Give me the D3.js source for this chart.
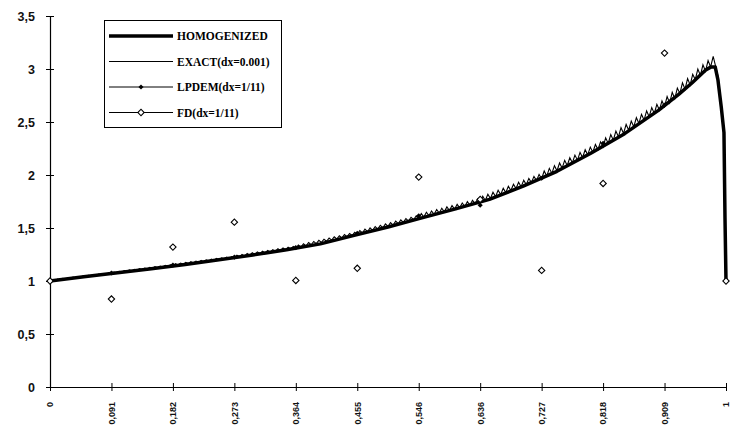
<!DOCTYPE html>
<html>
<head>
<meta charset="utf-8">
<script src="https://cdn.jsdelivr.net/npm/d3@7"></script>
<style>
  body { margin: 0; background: #fff; }
  #chart { width: 730px; height: 427px; }
</style>
</head>
<body>
<div id="chart"></div>
<script>
// tick labels
const X_TICKS = [0, 1/11, 2/11, 3/11, 4/11, 5/11, 6/11, 7/11, 8/11, 9/11, 10/11, 1];
const X_TICK_LABELS = ["0", "0,091", "0,182", "0,273", "0,364", "0,455", "0,546", "0,636", "0,727", "0,818", "0,909", "1"];
const Y_TICKS = [0, 0.5, 1, 1.5, 2, 2.5, 3, 3.5];
const Y_TICK_LABELS = ["0", "0,5", "1", "1,5", "2", "2,5", "3", "3,5"];

const SERIES_NAMES = ["HOMOGENIZED", "EXACT(dx=0.001)", "LPDEM(dx=1/11)", "FD(dx=1/11)"];

// homogenized solution
const HOMO_X = [0, 0.05, 0.1, 0.15, 0.2, 0.25, 0.3, 0.35, 0.4, 0.45, 0.5, 0.55, 0.6, 0.65, 0.7, 0.75, 0.8, 0.85, 0.9, 0.93, 0.95, 0.97, 0.978, 0.984, 0.988, 0.993, 0.997, 0.9985, 1];
const HOMO_Y = [1.00, 1.04, 1.077, 1.115, 1.155, 1.20, 1.245, 1.295, 1.35, 1.43, 1.51, 1.595, 1.68, 1.77, 1.895, 2.035, 2.205, 2.39, 2.61, 2.76, 2.87, 2.99, 3.02, 3.02, 2.90, 2.64, 2.40, 1.6, 1.0];

// exact solution, one value every 1/264 (valleys and spikes)
const EXACT_STEP = 1 / 264;
const EXACT_Y = [
  1.000,1.013,1.006,1.019,1.012,1.025,1.017,1.030,1.023,1.036,1.029,1.042,1.035,1.048,1.041,1.054,1.046,1.059,1.052,1.065,1.058,1.071,1.064,1.077,
  1.070,1.085,1.076,1.091,1.082,1.097,1.089,1.104,1.095,1.110,1.101,1.116,1.107,1.122,1.113,1.128,1.120,1.135,1.126,1.141,1.132,1.147,1.138,1.153,
  1.145,1.163,1.151,1.169,1.157,1.175,1.164,1.182,1.170,1.188,1.176,1.194,1.182,1.200,1.188,1.206,1.195,1.213,1.201,1.219,1.207,1.225,1.213,1.231,
  1.220,1.244,1.228,1.251,1.235,1.259,1.243,1.266,1.250,1.274,1.258,1.281,1.265,1.289,1.273,1.296,1.280,1.304,1.288,1.311,1.295,1.319,1.303,1.326,
  1.310,1.340,1.321,1.351,1.332,1.362,1.342,1.373,1.353,1.384,1.364,1.394,1.375,1.405,1.386,1.416,1.396,1.427,1.407,1.438,1.418,1.448,1.429,1.459,
  1.440,1.476,1.453,1.489,1.465,1.501,1.478,1.514,1.490,1.526,1.503,1.539,1.515,1.551,1.528,1.564,1.540,1.576,1.553,1.589,1.565,1.601,1.578,1.614,
  1.590,1.636,1.603,1.649,1.615,1.661,1.628,1.674,1.640,1.686,1.653,1.699,1.665,1.711,1.678,1.724,1.690,1.736,1.703,1.749,1.715,1.761,1.728,1.774,
  1.740,1.799,1.759,1.818,1.778,1.837,1.796,1.856,1.815,1.875,1.834,1.893,1.853,1.912,1.872,1.931,1.890,1.950,1.909,1.968,1.928,1.987,1.947,2.006,
  1.965,2.038,1.990,2.063,2.015,2.088,2.040,2.113,2.065,2.138,2.090,2.163,2.115,2.188,2.140,2.213,2.165,2.238,2.190,2.263,2.215,2.288,2.240,2.313,
  2.265,2.351,2.297,2.382,2.328,2.414,2.360,2.446,2.392,2.477,2.423,2.509,2.455,2.541,2.486,2.572,2.518,2.604,2.550,2.636,2.581,2.667,2.613,2.699,
  2.645,2.740,2.680,2.780,2.720,2.820,2.770,2.870,2.810,2.910,2.850,2.950,2.900,3.000,2.940,3.040,2.980,3.080,3.020,3.120,3.020,2.920,2.680,2.450,
  1.000
];

// discrete solutions at x = k/11
const LPDEM_Y = [1.00, 1.075, 1.15, 1.225, 1.315, 1.45, 1.615, 1.715, 1.97, 2.30, 2.66, 1.00];
const FD_Y = [1.00, 0.83, 1.32, 1.555, 1.005, 1.12, 1.98, 1.77, 1.10, 1.92, 3.15, 1.00];

var width = 730, height = 427;
var margin = {top: 16, right: 4, bottom: 40, left: 50};

var svg = d3.select("#chart")
    .append("svg")
    .attr("width", width)
    .attr("height", height);

var x = d3.scaleLinear().domain([0, 1]).range([margin.left, width - margin.right]);
var y = d3.scaleLinear().domain([0, 3.5]).range([height - margin.bottom, margin.top]);

// axes with ticks crossing the line
var yAxis = svg.append("g")
    .attr("transform", "translate(" + x(0) + ",0)")
    .call(d3.axisLeft(y).tickValues(Y_TICKS).tickFormat((d, i) => Y_TICK_LABELS[i]).tickSizeOuter(0));
yAxis.select(".domain").attr("stroke", "#000").attr("stroke-width", 1.2);
yAxis.selectAll(".tick line").attr("x1", 4).attr("x2", -4).attr("stroke", "#000");
yAxis.selectAll(".tick text")
    .attr("x", -15)
    .style("font-family", "Liberation Sans, Arial, sans-serif")
    .style("font-size", "12.5px")
    .style("font-weight", "bold")
    .attr("fill", "#111");

var xAxis = svg.append("g")
    .attr("transform", "translate(0," + y(0) + ")")
    .call(d3.axisBottom(x).tickValues(X_TICKS).tickFormat((d, i) => X_TICK_LABELS[i]).tickSizeOuter(0));
xAxis.select(".domain").attr("stroke", "#000").attr("stroke-width", 1.2);
xAxis.selectAll(".tick line").attr("y1", -4).attr("y2", 4).attr("stroke", "#000");
xAxis.selectAll(".tick text")
    .attr("transform", "rotate(-90)")
    .attr("x", -15)
    .attr("y", 0)
    .attr("dy", "0.32em")
    .attr("text-anchor", "end")
    .style("font-family", "Liberation Sans, Arial, sans-serif")
    .style("font-size", "9px")
    .style("font-weight", "bold")
    .attr("fill", "#111");

// lines
var homoLine = d3.line().x((d, i) => x(HOMO_X[i])).y(d => y(d));
svg.append("path")
    .datum(HOMO_Y)
    .attr("d", homoLine)
    .attr("fill", "none")
    .attr("stroke", "#000")
    .attr("stroke-width", 3.5)
    .attr("stroke-linejoin", "round");

var exactLine = d3.line().x((d, i) => x(i * EXACT_STEP)).y(d => y(d));
svg.append("path")
    .datum(EXACT_Y)
    .attr("d", exactLine)
    .attr("fill", "none")
    .attr("stroke", "#000")
    .attr("stroke-width", 1.1);

// markers: squares turned 45 degrees
var filledMark = d3.symbol().type(d3.symbolSquare).size(13);
var openMark = d3.symbol().type(d3.symbolSquare).size(20);

svg.append("g")
    .selectAll("path")
    .data(LPDEM_Y)
    .enter()
    .append("path")
    .attr("d", filledMark)
    .attr("transform", (d, i) => "translate(" + x(X_TICKS[i]) + "," + y(d) + ") rotate(45)")
    .attr("fill", "#000");

svg.append("g")
    .selectAll("path")
    .data(FD_Y)
    .enter()
    .append("path")
    .attr("d", openMark)
    .attr("transform", (d, i) => "translate(" + x(X_TICKS[i]) + "," + y(d) + ") rotate(45)")
    .attr("fill", "#fff")
    .attr("stroke", "#000")
    .attr("stroke-width", 1.1);

// legend
var legend = svg.append("g");
legend.append("rect")
    .attr("x", 104.5).attr("y", 20.5)
    .attr("width", 177).attr("height", 107)
    .attr("fill", "#fff")
    .attr("stroke", "#000")
    .attr("stroke-width", 1);

var legendRows = legend.selectAll("g.row")
    .data(SERIES_NAMES)
    .enter()
    .append("g")
    .attr("class", "row")
    .attr("transform", (d, i) => "translate(0," + (36 + i * 25.5) + ")");

legendRows.append("line")
    .attr("x1", 109).attr("x2", 173)
    .attr("stroke", "#000")
    .attr("stroke-width", (d, i) => i == 0 ? 3.5 : 1);

legendRows.filter((d, i) => i == 2)
    .append("path")
    .attr("d", filledMark)
    .attr("transform", "translate(141,0) rotate(45)")
    .attr("fill", "#000");

legendRows.filter((d, i) => i == 3)
    .append("path")
    .attr("d", openMark)
    .attr("transform", "translate(141,0) rotate(45)")
    .attr("fill", "#fff")
    .attr("stroke", "#000")
    .attr("stroke-width", 1.1);

legendRows.append("text")
    .attr("x", 177)
    .attr("dy", "0.35em")
    .text(d => d)
    .style("font-family", "Liberation Serif, Times New Roman, serif")
    .style("font-size", "11.5px")
    .style("font-weight", "bold")
    .attr("fill", "#000");
</script>
</body>
</html>
